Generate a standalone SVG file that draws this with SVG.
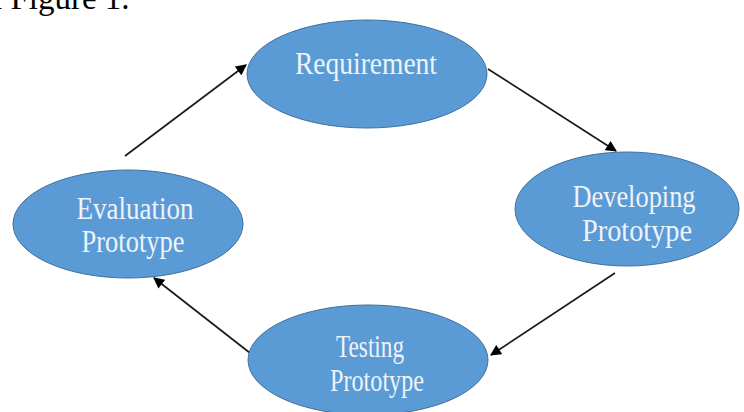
<svg xmlns="http://www.w3.org/2000/svg" width="744" height="412" viewBox="0 0 744 412">
  <style>
    .node ellipse { fill: #5B9BD5; stroke: #41719C; stroke-width: 1; }
    .node text { font-family: "Liberation Serif", "Times New Roman", serif; font-size: 32px; fill: #EEF3F9; text-anchor: middle; }
    .edge { stroke: #1A1A1A; stroke-width: 1.7; fill: none; marker-end: url(#arrow); }
    .caption { font-family: "Liberation Serif", "Times New Roman", serif; font-size: 33px; fill: #000; }
  </style>
  <defs>
    <marker id="arrow" viewBox="0 0 10 10" refX="9" refY="5" markerWidth="12" markerHeight="11" markerUnits="userSpaceOnUse" orient="auto">
      <path d="M0,0 L10,5 L0,10 z" fill="#000"/>
    </marker>
  </defs>
  <rect width="744" height="412" fill="#FFFFFF"/>

  <text class="caption" x="-7" y="9">l Figure 1.</text>

  <g id="connectors">
    <line class="edge" x1="125" y1="156" x2="246" y2="65"/>
    <line class="edge" x1="488" y1="69" x2="616" y2="151"/>
    <line class="edge" x1="615" y1="273" x2="491" y2="355"/>
    <line class="edge" x1="250" y1="353" x2="154" y2="278"/>
  </g>

  <g id="requirement" class="node">
    <ellipse cx="367" cy="74" rx="120" ry="54"/>
    <text x="366" y="74" textLength="142" lengthAdjust="spacingAndGlyphs">Requirement</text>
  </g>

  <g id="developing" class="node">
    <ellipse cx="627" cy="209" rx="112" ry="57"/>
    <text x="634" y="207" textLength="123" lengthAdjust="spacingAndGlyphs">Developing</text>
    <text x="637" y="241" textLength="110" lengthAdjust="spacingAndGlyphs">Prototype</text>
  </g>

  <g id="testing" class="node">
    <ellipse cx="368" cy="360" rx="120" ry="55"/>
    <text x="370" y="357" textLength="68" lengthAdjust="spacingAndGlyphs">Testing</text>
    <text x="377" y="391" textLength="94" lengthAdjust="spacingAndGlyphs">Prototype</text>
  </g>

  <g id="evaluation" class="node">
    <ellipse cx="128" cy="224" rx="115" ry="54"/>
    <text x="135" y="219" textLength="117" lengthAdjust="spacingAndGlyphs">Evaluation</text>
    <text x="133" y="252" textLength="103" lengthAdjust="spacingAndGlyphs">Prototype</text>
  </g>
</svg>
